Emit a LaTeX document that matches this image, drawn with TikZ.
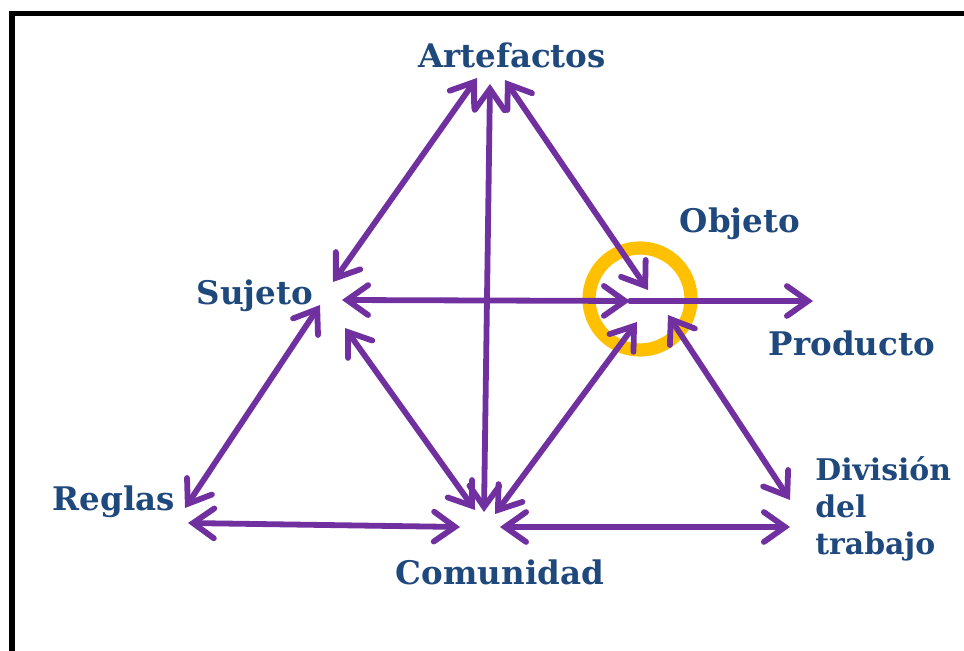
\documentclass[tikz,border=0pt]{standalone}
\usepackage{fontspec}
\setmainfont{DejaVu Serif}
\usetikzlibrary{arrows.meta}
\definecolor{txtblue}{RGB}{31,73,125}
\definecolor{arrpurple}{RGB}{112,48,160}
\definecolor{ringorange}{RGB}{255,192,0}
\tikzset{
  lbl/.style={font=\bfseries\fontsize{18.5pt}{21pt}\selectfont, text=txtblue, inner sep=0pt},
  biarrow/.style={draw=arrpurple, line width=3.3pt, line cap=round,
    {Straight Barb[length=12pt,width=17pt,line cap=round]}-{Straight Barb[length=12pt,width=17pt,line cap=round]}},
  oneArrow/.style={draw=arrpurple, line width=3.3pt, line cap=round,
    -{Straight Barb[length=12pt,width=17pt,line cap=round]}},
}
\begin{document}
\begin{tikzpicture}[x=0.02cm,y=-0.02cm]
\useasboundingbox (0,0) rectangle (964,651);
\fill[white] (0,0) rectangle (964,651);
% frame
\draw[line width=3.4pt] (12,651) -- (12,13.5) -- (964,13.5);
% labels
\node[lbl] (art) at (512,55) {Artefactos};
\node[lbl] (obj) at (740,224) {Objeto};
\node[lbl] (suj) at (255,296) {Sujeto};
\node[lbl] (pro) at (852,343) {Producto};
\node[lbl] (reg) at (114,502) {Reglas};
\node[lbl] (com) at (500,572) {Comunidad};
\node[lbl, font=\bfseries\fontsize{17pt}{21pt}\selectfont, align=left, anchor=west] (div) at (815,509) {División\\del\\trabajo};
% arrow end points
\coordinate (a1) at (477,78);  \coordinate (s1) at (333,282);
\coordinate (a2) at (490,84);  \coordinate (c2) at (484,512);
\coordinate (a3) at (505,80);  \coordinate (o3) at (648,290);
\coordinate (s4) at (342,300); \coordinate (o4) at (630,301);
\coordinate (p5) at (813,301);
\coordinate (s6) at (320,305); \coordinate (r6) at (185,508);
\coordinate (s7) at (345,328); \coordinate (c7) at (475,510);
\coordinate (o8) at (637,322); \coordinate (c8) at (495,514);
\coordinate (o9) at (668,315); \coordinate (d9) at (790,500);
\coordinate (r10) at (188,523); \coordinate (c10) at (460,527);
\coordinate (c11) at (500,527); \coordinate (d11) at (790,527);
% ring
\draw[ringorange, line width=7.5pt] (640,299) circle[radius=51];
% arrows
\draw[biarrow] (a1) -- (s1);
\draw[biarrow] (a2) -- (c2);
\draw[biarrow] (a3) -- (o3);
\draw[biarrow] (s4) -- (o4);
\draw[oneArrow] (o4) -- (p5);
\draw[biarrow] (s6) -- (r6);
\draw[biarrow] (s7) -- (c7);
\draw[biarrow] (o8) -- (c8);
\draw[biarrow] (o9) -- (d9);
\draw[biarrow] (r10) -- (c10);
\draw[biarrow] (c11) -- (d11);
\end{tikzpicture}
\end{document}
